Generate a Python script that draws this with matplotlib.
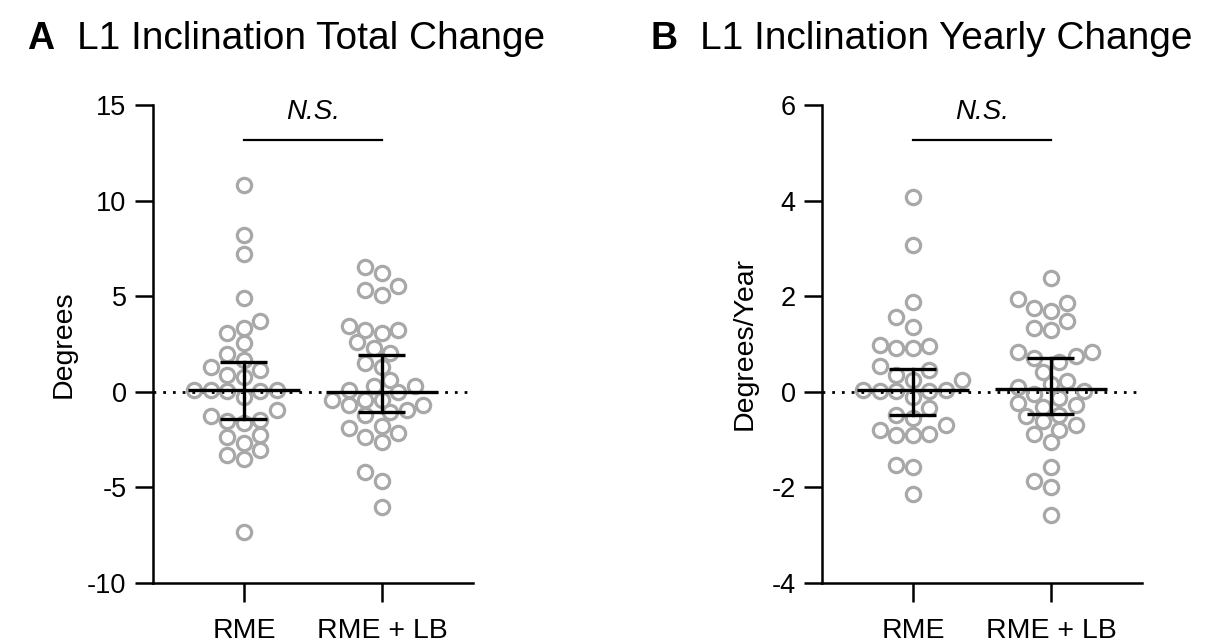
import numpy as np
import matplotlib
matplotlib.use("Agg")
import matplotlib.pyplot as plt

plt.rcParams['font.family'] = ['Liberation Sans', 'DejaVu Sans']
plt.rcParams['axes.unicode_minus'] = False

groups = ["RME", "RME + LB"]

# panel A: total change (degrees)
a_rme = [10.83, 8.21, 7.20, 4.93, 3.68, 3.33, 3.07, 2.55, 1.99, 1.67, 1.32, 1.15,
         0.89, 0.80, 0.10, 0.05, 0.10, 0.05, 0.10, -0.25, -0.94, -1.29, -1.46,
         -1.55, -1.64, -2.25, -2.37, -2.68, -3.03, -3.29, -3.52, -7.31]
a_lb = [6.52, 6.21, 5.54, 5.33, 5.07, 3.42, 3.21, 3.21, 3.07, 2.58, 2.29, 2.02,
        1.50, 1.32, 0.63, 0.28, 0.28, 0.10, 0.0, -0.42, -0.42, -0.42, -0.68,
        -0.68, -0.94, -1.06, -1.20, -1.81, -1.90, -2.13, -2.34, -2.60, -4.22,
        -4.69, -6.0]
a_median = [0.10, 0.0]
a_q1 = [-1.41, -1.08]
a_q3 = [1.58, 1.93]

# panel B: yearly change (degrees/year)
b_rme = [4.07, 3.08, 1.87, 1.56, 1.35, 0.98, 0.96, 0.91, 0.91, 0.53, 0.46, 0.36,
         0.24, 0.24, 0.03, 0.01, 0.01, 0.03, 0.01, -0.10, -0.34, -0.48, -0.55,
         -0.69, -0.79, -0.88, -0.90, -0.90, -1.53, -1.58, -2.13]
b_lb = [2.39, 1.94, 1.86, 1.76, 1.69, 1.49, 1.33, 1.30, 0.84, 0.84, 0.74, 0.70,
        0.63, 0.42, 0.22, 0.17, 0.10, 0.01, -0.05, -0.13, -0.24, -0.28, -0.31,
        -0.48, -0.51, -0.62, -0.69, -0.79, -0.89, -1.04, -1.58, -1.86, -1.99,
        -2.57]
b_median = [0.03, 0.06]
b_q1 = [-0.48, -0.47]
b_q3 = [0.48, 0.70]

GRAY = "#a8a8a8"
DIAM = 16.5  # marker diameter in pixels


def swarm(ax, xc, vals):
    # beeswarm offsets on a half-diameter grid, worked out in display pixels
    pts = ax.transData.transform(np.column_stack([np.full(len(vals), xc), vals]))
    ys = pts[:, 1]
    step = DIAM / 2
    placed = []
    offs = np.zeros(len(vals))
    for i in np.argsort(ys):
        y = ys[i]
        for k in sorted(range(-12, 13), key=lambda k: (abs(k), k)):
            c = k * step
            if all((c - px) ** 2 + (y - py) ** 2 >= (0.88 * DIAM) ** 2 for px, py in placed):
                offs[i] = c
                placed.append((c, y))
                break
    pts[:, 0] += offs
    return ax.transData.inverted().transform(pts)


def panel(ax, data, med, q1, q3, yticks, ylabel, label_x, ns_y, ns_line):
    ax.set_xlim(-0.659, 1.66)
    ax.set_ylim(yticks[0], yticks[-1])
    ax.axhline(0, color="black", lw=2, ls=(0, (1, 2.5)), zorder=1)
    for i, vals in enumerate(data):
        xy = swarm(ax, i, vals)
        ax.plot(xy[:, 0], xy[:, 1], "o", ms=10.3, mfc="none", mec=GRAY, mew=2.3,
                zorder=2, clip_on=False)
        ax.plot([i - 0.405, i + 0.405], [med[i], med[i]], color="black", lw=2.4,
                zorder=3, solid_capstyle="butt")
        ax.plot([i, i], [q1[i], q3[i]], color="black", lw=2.4, zorder=3)
        for q in (q1[i], q3[i]):
            ax.plot([i - 0.17, i + 0.17], [q, q], color="black", lw=2.4, zorder=3,
                    solid_capstyle="butt")
    ax.plot([0, 1], [ns_line, ns_line], color="black", lw=1.6, clip_on=False)
    ax.text(0.5, ns_y, "N.S.", style="italic", fontsize=20, ha="center", va="center")
    ax.set_yticks(yticks)
    ax.set_xticks([0, 1])
    ax.set_xticklabels(groups)
    ax.spines[["top", "right"]].set_visible(False)
    for s in ("left", "bottom"):
        ax.spines[s].set_linewidth(1.8)
    ax.tick_params(axis="y", length=13, width=1.8, labelsize=19.5, pad=6)
    ax.tick_params(axis="x", length=14, width=1.8, labelsize=20.5, pad=11)
    ax.set_ylabel(ylabel, fontsize=20.5)
    ax.yaxis.set_label_coords(label_x, 0.5)


fig = plt.figure(figsize=(12.09, 6.44), dpi=100)
ax1 = fig.add_axes([0.12655, 0.09472, 0.26468, 0.74224])
ax2 = fig.add_axes([0.6799, 0.09472, 0.26468, 0.74224])

panel(ax1, [a_rme, a_lb], a_median, a_q1, a_q3, [-10, -5, 0, 5, 10, 15],
      "Degrees", -0.2375, 14.64, 13.18)
panel(ax2, [b_rme, b_lb], b_median, b_q1, b_q3, [-4, -2, 0, 2, 4, 6],
      "Degrees/Year", -0.20, 5.86, 5.27)

fig.text(0.022, 0.940, "A", fontsize=27, weight="bold", va="center")
fig.text(0.064, 0.940, "L1 Inclination Total Change", fontsize=28, va="center")
fig.text(0.538, 0.940, "B", fontsize=27, weight="bold", va="center")
fig.text(0.579, 0.940, "L1 Inclination Yearly Change", fontsize=28, va="center")

fig.savefig("out.png", dpi=100)
